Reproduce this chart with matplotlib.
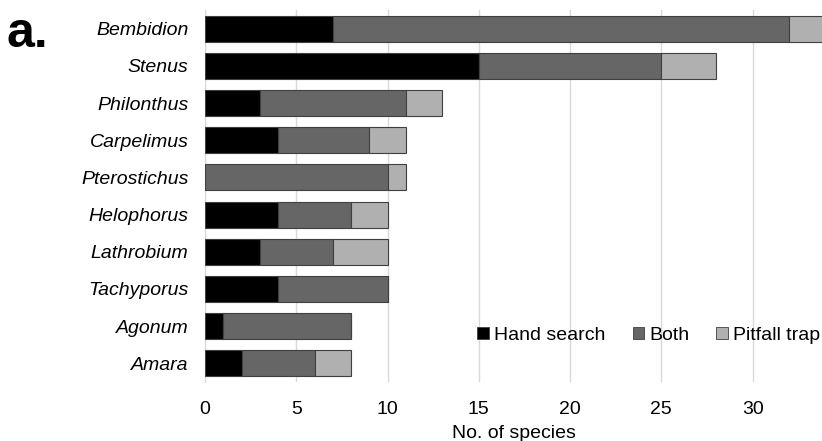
"""Species counts per genus by sampling method (stacked horizontal bars)."""

import matplotlib
matplotlib.use('Agg')
import matplotlib.pyplot as plt
from matplotlib.patches import Patch

genera = ['Bembidion', 'Stenus', 'Philonthus', 'Carpelimus', 'Pterostichus',
          'Helophorus', 'Lathrobium', 'Tachyporus', 'Agonum', 'Amara']
hand_search = [7, 15, 3, 4, 0, 4, 3, 4, 1, 2]
both = [25, 10, 8, 5, 10, 4, 4, 6, 7, 4]
pitfall_trap = [2, 3, 2, 2, 1, 2, 3, 0, 0, 2]

series_names = ['Hand search', 'Both', 'Pitfall trap']
colors = ['#000000', '#666666', '#b0b0b0']
x_ticks = [0, 5, 10, 15, 20, 25, 30]

plt.rcParams['font.family'] = ['Liberation Sans', 'DejaVu Sans']
fs = 14

fig = plt.figure(figsize=(8.22, 4.41), dpi=100)
ax = fig.add_axes([0.2494, 0.134, 0.7506, 0.843])

y = list(range(len(genera)))
left = [0] * len(genera)
for vals, color in zip([hand_search, both, pitfall_trap], colors):
    ax.barh(y, vals, left=left, height=0.7, color=color,
            edgecolor='#404040', linewidth=0.8, zorder=3)
    left = [l + v for l, v in zip(left, vals)]

ax.set_xlim(0, 33.8)
ax.set_ylim(len(genera) - 0.5, -0.5)
ax.set_yticks(y)
ax.set_yticklabels(genera, fontstyle='italic', fontsize=fs)
ax.set_xticks(x_ticks)
ax.set_xticklabels([str(t) for t in x_ticks], fontsize=fs)
ax.tick_params(axis='y', length=0, pad=12)
ax.tick_params(axis='x', length=0, pad=14)
ax.xaxis.grid(True, color='#d9d9d9', linewidth=1, zorder=0)
ax.set_axisbelow(True)
for side in ['top', 'right', 'bottom']:
    ax.spines[side].set_visible(False)
ax.spines['left'].set_color('#d9d9d9')
ax.set_xlabel('No. of species', fontsize=fs, labelpad=5)

handles = [Patch(facecolor=c, edgecolor='#404040', linewidth=0.6) for c in colors]
ax.legend(handles, series_names, ncol=3, frameon=False, fontsize=fs,
          loc='center right', bbox_to_anchor=(1.0, 0.126),
          handlelength=0.6, handleheight=0.6, handletextpad=0.25,
          columnspacing=1.4, borderaxespad=0.0, borderpad=0.1)

fig.text(0.008, 0.975, 'a.', fontsize=36, fontweight='bold', va='top')

fig.savefig('out.png', dpi=100)
